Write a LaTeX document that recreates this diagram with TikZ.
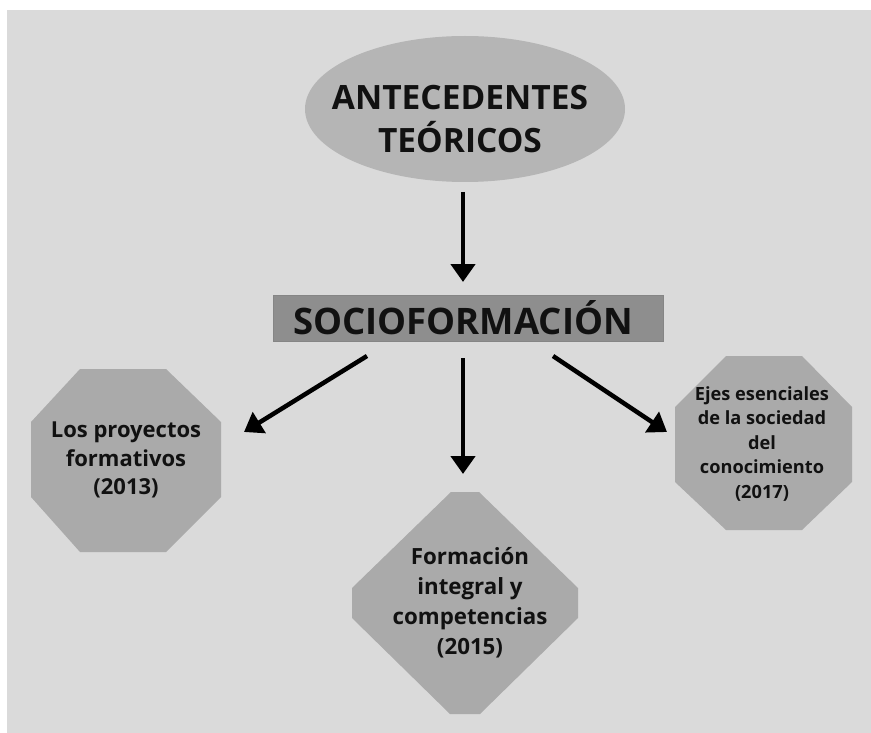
\documentclass[tikz,border=0pt]{standalone}
\usepackage{fontspec}
\setmainfont{Open Sans}
\usetikzlibrary{shapes.geometric,arrows.meta}
\definecolor{bgc}{HTML}{DADADA}
\definecolor{ellc}{HTML}{B5B5B5}
\definecolor{recc}{HTML}{8E8E8E}
\definecolor{recb}{HTML}{858585}
\definecolor{octc}{HTML}{AAAAAA}
\definecolor{txt}{HTML}{111111}
\begin{document}
\begin{tikzpicture}[x=1pt,y=-1pt,
  arr/.style={line width=4.5pt, draw=black, -{Triangle[length=18pt,width=24pt]}},
  poly/.style={fill=octc, draw=none},
  lbl/.style={align=center, text=txt, inner sep=0pt}]
\useasboundingbox (0,0) rectangle (871,733);
\fill[white] (0,0) rectangle (871,733);
\fill[bgc] (7,10) rectangle (871,733);

% shapes
\node[ellipse, fill=ellc, minimum width=320pt, minimum height=146pt, inner sep=0pt] (ant) at (465,109) {};
\node[lbl, font=\bfseries\fontsize{33.5}{43}\selectfont] (antt) at (460,119) {ANTECEDENTES\\TEÓRICOS};
\node[fill=recc, draw=recb, line width=0.8pt, minimum width=390pt, minimum height=46pt,
      inner sep=0pt] (soc) at (468,318) {};
\node[lbl, font=\bfseries\fontsize{36.5}{40}\selectfont] (soct) at (463,318) {SOCIOFORMACIÓN};

\fill[poly] (80,369)--(166,369)--(221,422)--(221,497)--(166,552)--(80,552)--(31,497)--(31,422)--cycle;
\fill[poly] (726,356)--(802,356)--(852,407)--(852,482)--(802,530)--(726,530)--(675,482)--(675,407)--cycle;
\fill[poly] (451,492)--(479,492)--(578,588)--(578,618)--(480,714)--(450,714)--(352,618)--(352,588)--cycle;

\node[lbl, font=\bfseries\fontsize{22}{28.5}\selectfont] (lp) at (126,460) {Los proyectos\\formativos\\(2013)};
\node[lbl, font=\bfseries\fontsize{22.3}{30}\selectfont] (fi) at (470,603) {Formación\\integral y\\competencias\\(2015)};
\node[lbl, font=\bfseries\fontsize{18.2}{24.5}\selectfont] (ej) at (762,444) {Ejes esenciales\\de la sociedad\\del\\conocimiento\\(2017)};

% arrow end points
\coordinate (a1s) at (463,192);
\coordinate (a1e) at (463,282);
\coordinate (a2s) at (367,356);
\coordinate (a2e) at (244,432);
\coordinate (a3s) at (463,358);
\coordinate (a3e) at (463,474);
\coordinate (a4s) at (553,356);
\coordinate (a4e) at (667,432);

\draw[arr] (a1s) -- (a1e);
\draw[arr] (a2s) -- (a2e);
\draw[arr] (a3s) -- (a3e);
\draw[arr] (a4s) -- (a4e);
\end{tikzpicture}
\end{document}
